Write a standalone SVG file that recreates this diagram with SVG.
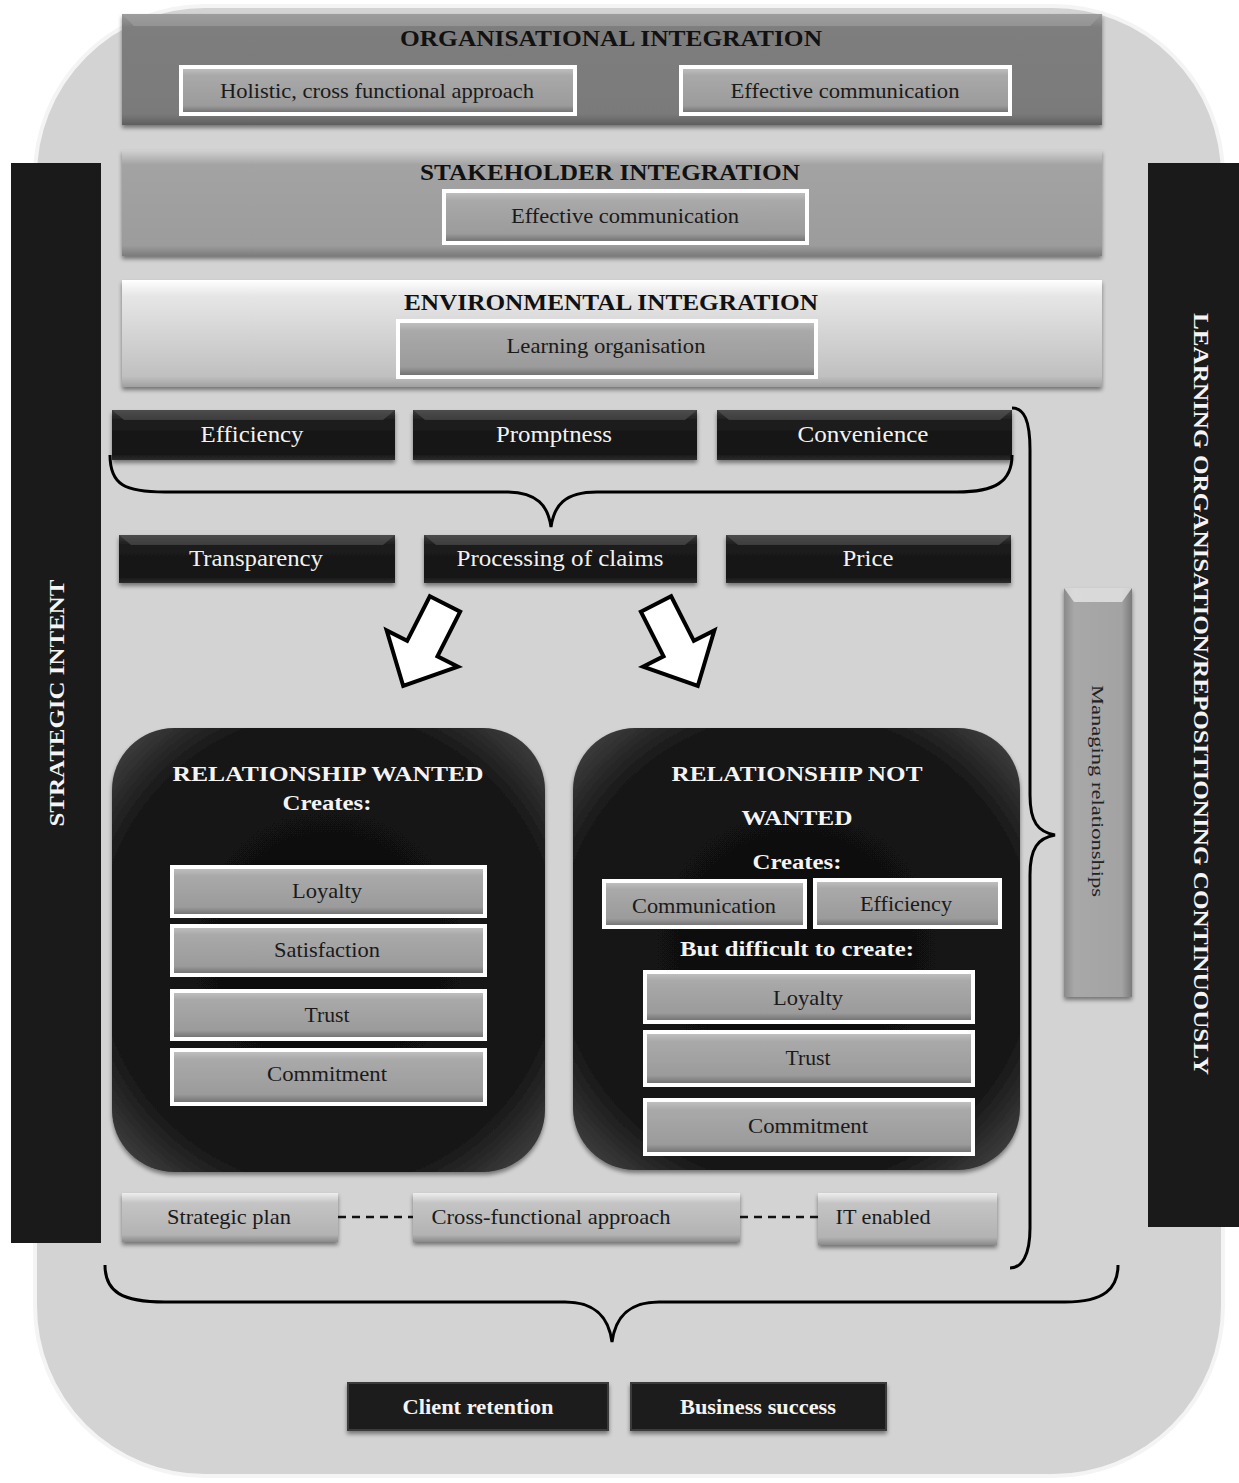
<svg xmlns="http://www.w3.org/2000/svg" width="1239" height="1483" viewBox="0 0 1239 1483">
<defs>
<style>
.t{font-family:"Liberation Serif","Times New Roman",serif;text-anchor:middle}
.hd{font-weight:bold;font-size:23px;fill:#111}
.lb{font-size:21px;fill:#1a1a1a}
.wl{font-size:23px;fill:#f2f2f2}
.wb{font-weight:bold;fill:#f4f4f4}
.box{fill:url(#gBox);stroke:#fff;stroke-width:4}
.dark{fill:url(#gDark);filter:url(#sh)}
.bev{fill:#5a5a5a;opacity:.55}
.brace{fill:none;stroke:#000;stroke-width:3}
</style>
<filter id="sh" x="-10%" y="-20%" width="120%" height="150%"><feDropShadow dx="0" dy="3" stdDeviation="2" flood-color="#000" flood-opacity=".45"/></filter>
<linearGradient id="gBox" x1="0" y1="0" x2="0" y2="1"><stop offset="0" stop-color="#c4c4c4"/><stop offset=".18" stop-color="#a9a9a9"/><stop offset=".82" stop-color="#9b9b9b"/><stop offset="1" stop-color="#6a6a6a"/></linearGradient>
<linearGradient id="gDark" x1="0" y1="0" x2="0" y2="1"><stop offset="0" stop-color="#3c3c3c"/><stop offset=".2" stop-color="#1d1d1d"/><stop offset=".85" stop-color="#121212"/><stop offset="1" stop-color="#2c2c2c"/></linearGradient>
<linearGradient id="gOrg" x1="0" y1="0" x2="0" y2="1"><stop offset="0" stop-color="#9a9a9a"/><stop offset=".12" stop-color="#7e7e7e"/><stop offset=".9" stop-color="#7a7a7a"/><stop offset="1" stop-color="#5e5e5e"/></linearGradient>
<linearGradient id="gStk" x1="0" y1="0" x2="0" y2="1"><stop offset="0" stop-color="#d2d2d2"/><stop offset=".14" stop-color="#a3a3a3"/><stop offset=".9" stop-color="#9c9c9c"/><stop offset="1" stop-color="#7c7c7c"/></linearGradient>
<linearGradient id="gEnv" x1="0" y1="0" x2="0" y2="1"><stop offset="0" stop-color="#ffffff"/><stop offset=".15" stop-color="#e6e6e6"/><stop offset=".9" stop-color="#c0c0c0"/><stop offset="1" stop-color="#a0a0a0"/></linearGradient>
<linearGradient id="gLight" x1="0" y1="0" x2="0" y2="1"><stop offset="0" stop-color="#eeeeee"/><stop offset=".2" stop-color="#c4c4c4"/><stop offset=".85" stop-color="#b3b3b3"/><stop offset="1" stop-color="#8a8a8a"/></linearGradient>
<linearGradient id="gMan" x1="0" y1="0" x2="1" y2="0"><stop offset="0" stop-color="#8a8a8a"/><stop offset=".15" stop-color="#a8a8a8"/><stop offset=".85" stop-color="#a3a3a3"/><stop offset="1" stop-color="#7a7a7a"/></linearGradient>
<radialGradient id="gRel" cx=".5" cy=".5" r=".7"><stop offset="0" stop-color="#0c0c0c"/><stop offset=".75" stop-color="#161616"/><stop offset="1" stop-color="#4a4a4a"/></radialGradient>
<path id="arr" d="M-17,0 L17,0 L17,50 L40,50 L0,92 L-40,50 L-17,50 Z"/>
</defs>

<rect x="0" y="0" width="1239" height="1483" fill="#fff"/>
<rect id="bg" x="35" y="6" width="1188" height="1470" rx="170" fill="#d3d3d3" stroke="#f4f4f4" stroke-width="4"/>

<g id="strategic-intent">
<rect x="11" y="163" width="90" height="1080" fill="#1a1a1a"/>
<text class="t wb" font-size="22" textLength="247" lengthAdjust="spacingAndGlyphs" transform="translate(64,703) rotate(-90)">STRATEGIC INTENT</text>
</g>
<g id="learning-org">
<rect x="1148" y="163" width="91" height="1064" fill="#1a1a1a"/>
<text class="t wb" font-size="22" textLength="762" lengthAdjust="spacingAndGlyphs" transform="translate(1194,694) rotate(90)">LEARNING ORGANISATION/REPOSITIONING CONTINUOUSLY</text>
</g>

<g id="organisational">
<rect x="122" y="14" width="980" height="111" fill="url(#gOrg)" filter="url(#sh)"/>
<polygon points="122,14 1102,14 1090,26 134,26" fill="#a0a0a0" opacity=".6"/>
<text class="t hd" x="611" y="46" textLength="422" lengthAdjust="spacingAndGlyphs">ORGANISATIONAL INTEGRATION</text>
<g id="holistic"><rect class="box" x="181" y="67" width="394" height="47"/><text class="t lb" x="377" y="98" textLength="314" lengthAdjust="spacingAndGlyphs">Holistic, cross functional approach</text></g>
<g id="effcomm1"><rect class="box" x="681" y="67" width="329" height="47"/><text class="t lb" x="845" y="98" textLength="229" lengthAdjust="spacingAndGlyphs">Effective communication</text></g>
</g>

<g id="stakeholder">
<rect x="122" y="150" width="980" height="106" fill="url(#gStk)" filter="url(#sh)"/>
<text class="t hd" x="610" y="180" textLength="380" lengthAdjust="spacingAndGlyphs">STAKEHOLDER INTEGRATION</text>
<g id="effcomm2"><rect class="box" x="444" y="191" width="363" height="52"/><text class="t lb" x="625" y="223" textLength="228" lengthAdjust="spacingAndGlyphs">Effective communication</text></g>
</g>

<g id="environmental">
<rect x="122" y="280" width="980" height="107" fill="url(#gEnv)" filter="url(#sh)"/>
<text class="t hd" x="611" y="310" textLength="414" lengthAdjust="spacingAndGlyphs">ENVIRONMENTAL INTEGRATION</text>
<g id="learning"><rect class="box" x="398" y="321" width="418" height="56"/><text class="t lb" x="606" y="353" textLength="199" lengthAdjust="spacingAndGlyphs">Learning organisation</text></g>
</g>

<g id="efficiency"><rect class="dark" x="112" y="410" width="283" height="50"/><polygon class="bev" points="112,410 395,410 383,420 124,420"/><text class="t wl" x="252" y="442" textLength="103" lengthAdjust="spacingAndGlyphs">Efficiency</text></g>
<g id="promptness"><rect class="dark" x="413" y="410" width="284" height="50"/><polygon class="bev" points="413,410 697,410 685,420 425,420"/><text class="t wl" x="554" y="442" textLength="116" lengthAdjust="spacingAndGlyphs">Promptness</text></g>
<g id="convenience"><rect class="dark" x="717" y="410" width="295" height="50"/><polygon class="bev" points="717,410 1012,410 1000,420 729,420"/><text class="t wl" x="863" y="442" textLength="131" lengthAdjust="spacingAndGlyphs">Convenience</text></g>

<g id="transparency"><rect class="dark" x="119" y="535" width="276" height="48"/><polygon class="bev" points="119,535 395,535 383,545 131,545"/><text class="t wl" x="256" y="566" textLength="134" lengthAdjust="spacingAndGlyphs">Transparency</text></g>
<g id="processing"><rect class="dark" x="424" y="535" width="273" height="48"/><polygon class="bev" points="424,535 697,535 685,545 436,545"/><text class="t wl" x="560" y="566" textLength="207" lengthAdjust="spacingAndGlyphs">Processing of claims</text></g>
<g id="price"><rect class="dark" x="726" y="535" width="285" height="48"/><polygon class="bev" points="726,535 1011,535 999,545 738,545"/><text class="t wl" x="868" y="566" textLength="51" lengthAdjust="spacingAndGlyphs">Price</text></g>

<g id="managing">
<rect x="1064" y="588" width="68" height="409" fill="url(#gMan)" filter="url(#sh)"/>
<polygon points="1064,588 1132,588 1122,602 1074,602" fill="#e6e6e6" opacity=".8"/>
<text class="t" font-size="17" fill="#222" textLength="212" lengthAdjust="spacingAndGlyphs" transform="translate(1092,791) rotate(90)">Managing relationships</text>
</g>

<g id="rel-wanted">
<rect x="112" y="728" width="433" height="444" rx="62" fill="url(#gRel)" filter="url(#sh)"/>
<text class="t wb" font-size="22" x="328" y="781" textLength="311" lengthAdjust="spacingAndGlyphs">RELATIONSHIP WANTED</text>
<text class="t wb" font-size="22" x="327" y="810" textLength="89" lengthAdjust="spacingAndGlyphs">Creates:</text>
<g id="rw-loyalty"><rect class="box" x="172" y="867" width="313" height="49"/><text class="t lb" x="327" y="898" textLength="70" lengthAdjust="spacingAndGlyphs">Loyalty</text></g>
<g id="rw-satisfaction"><rect class="box" x="172" y="926" width="313" height="49"/><text class="t lb" x="327" y="957" textLength="106" lengthAdjust="spacingAndGlyphs">Satisfaction</text></g>
<g id="rw-trust"><rect class="box" x="172" y="991" width="313" height="48"/><text class="t lb" x="327" y="1022" textLength="45" lengthAdjust="spacingAndGlyphs">Trust</text></g>
<g id="rw-commitment"><rect class="box" x="172" y="1050" width="313" height="54"/><text class="t lb" x="327" y="1081" textLength="120" lengthAdjust="spacingAndGlyphs">Commitment</text></g>
</g>

<g id="rel-not-wanted">
<rect x="573" y="728" width="447" height="442" rx="62" fill="url(#gRel)" filter="url(#sh)"/>
<text class="t wb" font-size="22" x="797" y="781" textLength="251" lengthAdjust="spacingAndGlyphs">RELATIONSHIP NOT</text>
<text class="t wb" font-size="22" x="797" y="825" textLength="111" lengthAdjust="spacingAndGlyphs">WANTED</text>
<text class="t wb" font-size="22" x="797" y="869" textLength="89" lengthAdjust="spacingAndGlyphs">Creates:</text>
<g id="rn-communication"><rect class="box" x="604" y="881" width="201" height="46"/><text class="t lb" x="704" y="913" textLength="144" lengthAdjust="spacingAndGlyphs">Communication</text></g>
<g id="rn-efficiency"><rect class="box" x="815" y="880" width="185" height="47"/><text class="t lb" x="906" y="911" textLength="92" lengthAdjust="spacingAndGlyphs">Efficiency</text></g>
<text class="t wb" font-size="22" x="797" y="956" textLength="234" lengthAdjust="spacingAndGlyphs">But difficult to create:</text>
<g id="rn-loyalty"><rect class="box" x="645" y="972" width="328" height="50"/><text class="t lb" x="808" y="1005" textLength="70" lengthAdjust="spacingAndGlyphs">Loyalty</text></g>
<g id="rn-trust"><rect class="box" x="645" y="1032" width="328" height="53"/><text class="t lb" x="808" y="1065" textLength="45" lengthAdjust="spacingAndGlyphs">Trust</text></g>
<g id="rn-commitment"><rect class="box" x="645" y="1100" width="328" height="54"/><text class="t lb" x="808" y="1133" textLength="120" lengthAdjust="spacingAndGlyphs">Commitment</text></g>
</g>

<g id="strategic-plan"><rect x="122" y="1193" width="216" height="49" fill="url(#gLight)" filter="url(#sh)"/><text class="t lb" x="229" y="1224" textLength="124" lengthAdjust="spacingAndGlyphs">Strategic plan</text></g>
<g id="cross-functional"><rect x="413" y="1193" width="327" height="49" fill="url(#gLight)" filter="url(#sh)"/><text class="t lb" x="551" y="1224" textLength="239" lengthAdjust="spacingAndGlyphs">Cross-functional approach</text></g>
<g id="it-enabled"><rect x="818" y="1193" width="179" height="52" fill="url(#gLight)" filter="url(#sh)"/><text class="t lb" x="883" y="1224" textLength="95" lengthAdjust="spacingAndGlyphs">IT enabled</text></g>

<g id="client-retention"><rect x="348" y="1383" width="260" height="47" fill="#1b1b1b" stroke="#3a3a3a" stroke-width="2" filter="url(#sh)"/><text class="t wb" font-size="21" x="478" y="1414" textLength="151" lengthAdjust="spacingAndGlyphs">Client retention</text></g>
<g id="business-success"><rect x="631" y="1383" width="255" height="47" fill="#1b1b1b" stroke="#3a3a3a" stroke-width="2" filter="url(#sh)"/><text class="t wb" font-size="21" x="758" y="1414" textLength="156" lengthAdjust="spacingAndGlyphs">Business success</text></g>

<g id="connectors">
<path class="brace" d="M110,455 C110,485 125,492 165,492 L505,492 C538,492 548,506 551,527 C554,506 564,492 597,492 L957,492 C995,492 1012,482 1012,455"/>
<path class="brace" d="M105,1265 C105,1292 122,1302 165,1302 L565,1302 C598,1302 609,1320 612,1342 C615,1320 626,1302 659,1302 L1065,1302 C1105,1302 1118,1288 1118,1265"/>
<path class="brace" d="M1012,408 C1024,408 1030,420 1030,450 L1030,795 C1030,822 1038,832 1055,835 C1038,838 1030,848 1030,875 L1030,1228 C1030,1255 1022,1268 1010,1268"/>
<line x1="338" y1="1217" x2="413" y2="1217" stroke="#111" stroke-width="2.5" stroke-dasharray="8,6"/>
<line x1="740" y1="1217" x2="818" y2="1217" stroke="#111" stroke-width="2.5" stroke-dasharray="8,6"/>
<use href="#arr" transform="translate(445,604) rotate(27)" fill="#fff" stroke="#000" stroke-width="4" stroke-linejoin="miter"/>
<use href="#arr" transform="translate(656,604) rotate(-27)" fill="#fff" stroke="#000" stroke-width="4" stroke-linejoin="miter"/>
</g>
</svg>
